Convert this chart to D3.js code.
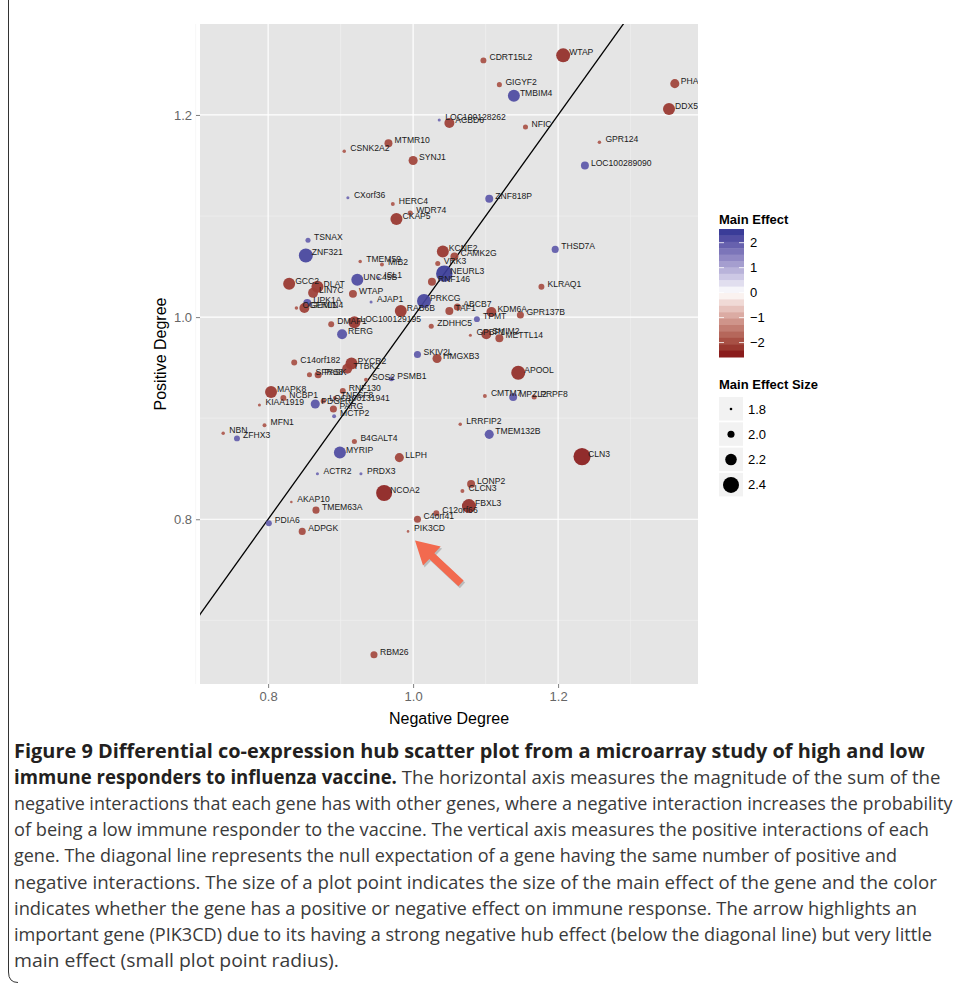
<!DOCTYPE html>
<html>
<head>
<meta charset="utf-8">
<script src="https://cdnjs.cloudflare.com/ajax/libs/d3/7.8.5/d3.min.js"></script>
<style>
  body { margin: 0; background: #fff; }
  svg { display: block; }
</style>
</head>
<body>
<svg id="chart" width="957" height="983"></svg>
<script>
// gene labels, negative degree (x), positive degree (y), main effect (colour; |value| = size)
var genes = ["WTAP","CDRT15L2","GIGYF2","TMBIM4","PHA","DDX5","LOC100128262","ACBD6","NFIC","GPR124",
  "MTMR10","CSNK2A2","SYNJ1","LOC100289090","CXorf36","ZNF818P","HERC4","WDR74","CKAP5","TSNAX",
  "THSD7A","KCNE2","ZNF321","CAMK2G","TMEM59","VRK3","MIB2","NEURL3","ISL1","UNC45B",
  "RNF146","GCC2","KLRAQ1","DLAT","LIN7C","WTAP","PRKCG","AJAP1","UPK1A","ABCB7",
  "OGFRL1","GEMIN4","TAF1","RAB6B","KDM6A","GPR137B","TPMT","LOC100129195","DMAP1","ZDHHC5",
  "RERG","GPBP1","SMIM2","METTL14","SKIV2L","HMGXB3","C14orf182","PYCR2","TTBK2","APOOL",
  "SFRS8","PASK","SOS2","PSMB1","RNF130","MAPK8","CMTM7","MPZL2","PRPF8","NCBP1",
  "KIAA1919","PDGFRL","LOC100131941","TNFSF8","PARG","MCTP2","LRRFIP2","MFN1","NBN","TMEM132B",
  "ZFHX3","B4GALT4","MYRIP","CLN3","LLPH","ACTR2","PRDX3","LONP2","CLCN3","NCOA2",
  "AKAP10","FBXL3","TMEM63A","C12orf66","C4orf41","PDIA6","PIK3CD","ADPGK","RBM26"];
var negDegree = [1.207,1.097,1.119,1.139,1.361,1.353,1.036,1.050,1.155,1.257,
  0.966,0.905,1.000,1.237,0.910,1.105,0.972,0.996,0.977,0.855,
  1.196,1.041,0.852,1.057,0.927,1.034,0.957,1.043,0.952,0.923,
  1.026,0.829,1.177,0.868,0.862,0.917,1.015,0.942,0.854,1.061,
  0.839,0.850,1.050,0.983,1.108,1.148,1.088,0.919,0.887,1.025,
  0.902,1.079,1.101,1.119,1.006,1.033,0.836,0.915,0.909,1.145,
  0.857,0.869,0.935,0.970,0.903,0.804,1.099,1.138,1.167,0.821,
  0.788,0.865,0.876,0.892,0.890,0.891,1.065,0.795,0.738,1.105,
  0.757,0.919,0.899,1.233,0.981,0.868,0.928,1.080,1.068,0.960,
  0.832,1.077,0.866,1.032,1.006,0.801,0.993,0.847,0.946];
var posDegree = [1.259,1.254,1.230,1.219,1.231,1.206,1.195,1.192,1.188,1.173,
  1.172,1.164,1.155,1.150,1.118,1.117,1.112,1.103,1.097,1.076,
  1.067,1.065,1.061,1.060,1.055,1.053,1.052,1.043,1.039,1.037,
  1.035,1.033,1.030,1.030,1.024,1.023,1.016,1.015,1.014,1.010,
  1.009,1.009,1.006,1.006,1.005,1.002,0.998,0.995,0.993,0.991,
  0.983,0.982,0.983,0.979,0.963,0.959,0.955,0.954,0.949,0.945,
  0.943,0.943,0.938,0.939,0.927,0.926,0.922,0.921,0.921,0.920,
  0.913,0.914,0.917,0.920,0.909,0.902,0.894,0.893,0.885,0.884,
  0.880,0.877,0.866,0.862,0.861,0.845,0.845,0.835,0.828,0.826,
  0.817,0.813,0.809,0.806,0.800,0.796,0.788,0.788,0.666];
var mainEffect = [-2.31,-1.95,-1.91,2.22,-2.09,-2.22,1.82,-2.13,-1.91,-1.84,
  -2.04,-1.84,-2.09,2.04,1.82,2.04,-1.86,-1.91,-2.22,1.91,
  2.00,-2.22,2.31,-2.04,-1.84,-1.91,-1.86,2.42,1.82,2.22,
  -2.04,-2.22,-1.95,-2.22,-2.13,-2.04,2.31,1.82,2.04,-2.00,
  -1.84,-2.13,-2.04,-2.22,-2.13,-2.00,1.95,-2.22,-1.95,-1.91,
  2.13,-1.82,-2.13,-2.04,2.00,-2.09,-1.95,-2.22,-2.13,-2.31,
  -1.91,-2.00,-1.86,1.91,-1.95,-2.22,-1.86,2.04,-1.91,-1.95,
  -1.82,2.09,-1.91,-1.86,-2.00,1.86,-1.84,-1.86,-1.84,2.09,
  1.95,-1.91,2.22,-2.45,-2.09,1.82,1.82,-2.04,-1.86,-2.40,
  -1.80,-2.31,-2.00,-1.95,-2.00,1.95,-1.80,-2.00,-2.00];

var xTicks = [0.8, 1.0, 1.2];
var yTicks = [0.8, 1.0, 1.2];
var xMinor = [0.7, 0.9, 1.1, 1.3];
var yMinor = [0.7, 0.9, 1.1];
var colourBreaks = [2, 1, 0, -1, -2];
var sizeBreaks = [1.8, 2.0, 2.2, 2.4];
var highlightGene = "PIK3CD";

var captionLines = [
  [["Figure 9 Differential co-expression hub scatter plot from a microarray study of high and low", true]],
  [["immune responders to influenza vaccine.", true], [" The horizontal axis measures the magnitude of the sum of the", false]],
  [["negative interactions that each gene has with other genes, where a negative interaction increases the probability", false]],
  [["of being a low immune responder to the vaccine. The vertical axis measures the positive interactions of each", false]],
  [["gene. The diagonal line represents the null expectation of a gene having the same number of positive and", false]],
  [["negative interactions. The size of a plot point indicates the size of the main effect of the gene and the color", false]],
  [["indicates whether the gene has a positive or negative effect on immune response. The arrow highlights an", false]],
  [["important gene (PIK3CD) due to its having a strong negative hub effect (below the diagonal line) but very little", false]],
  [["main effect (small plot point radius).", false]]
];
var captionWidths = [911, 927, 939, 916, 883, 923, 904, 919, 325];

var points = genes.map(function (g, i) {
  return { gene: g, x: negDegree[i], y: posDegree[i], effect: mainEffect[i] };
});

var svg = d3.select("#chart");
var panel = { left: 200, right: 698, top: 24, bottom: 684 };

var x = d3.scaleLinear().domain([0.706, 1.393]).range([panel.left, panel.right]);
var y = d3.scaleLinear().domain([0.637, 1.290]).range([panel.bottom, panel.top]);
var r = d3.scaleLinear().domain([1.8, 2.4]).range([1.3, 8]);
var effectExtent = d3.extent(mainEffect);
var lim = d3.max(effectExtent, Math.abs);
var colour = d3.scaleLinear()
  .domain([-lim, 0, lim])
  .range(["#8a1c1c", "#ffffff", "#373a97"])
  .interpolate(d3.interpolateLab);

// figure frame on the left
svg.append("path")
  .attr("d", "M8.5,0V972Q8.5,982.5,18,982.5")
  .attr("fill", "none")
  .attr("stroke", "#333")
  .attr("stroke-width", 1);

// panel
svg.append("rect")
  .attr("x", panel.left).attr("y", panel.top)
  .attr("width", panel.right - panel.left).attr("height", panel.bottom - panel.top)
  .attr("fill", "#e5e5e5");

var grid = svg.append("g");
grid.selectAll("line.xminor").data(xMinor).enter().append("line")
  .attr("x1", function (d) { return x(d); }).attr("x2", function (d) { return x(d); })
  .attr("y1", panel.top).attr("y2", panel.bottom)
  .attr("stroke", "#f2f2f2").attr("stroke-width", 0.6);
grid.selectAll("line.yminor").data(yMinor).enter().append("line")
  .attr("y1", function (d) { return y(d); }).attr("y2", function (d) { return y(d); })
  .attr("x1", panel.left).attr("x2", panel.right)
  .attr("stroke", "#f2f2f2").attr("stroke-width", 0.6);
grid.selectAll("line.xmajor").data(xTicks).enter().append("line")
  .attr("x1", function (d) { return x(d); }).attr("x2", function (d) { return x(d); })
  .attr("y1", panel.top).attr("y2", panel.bottom)
  .attr("stroke", "#fff").attr("stroke-width", 1.2);
grid.selectAll("line.ymajor").data(yTicks).enter().append("line")
  .attr("y1", function (d) { return y(d); }).attr("y2", function (d) { return y(d); })
  .attr("x1", panel.left).attr("x2", panel.right)
  .attr("stroke", "#fff").attr("stroke-width", 1.2);

svg.append("clipPath").attr("id", "clip").append("rect")
  .attr("x", panel.left).attr("y", panel.top)
  .attr("width", panel.right - panel.left).attr("height", panel.bottom - panel.top);

var plot = svg.append("g").attr("clip-path", "url(#clip)");

// null expectation line y = x
plot.append("line")
  .attr("x1", x(0.6)).attr("y1", y(0.6))
  .attr("x2", x(1.4)).attr("y2", y(1.4))
  .attr("stroke", "#000").attr("stroke-width", 1.3);

plot.append("g").selectAll("circle")
  .data(points).enter().append("circle")
  .attr("cx", function (d) { return x(d.x); })
  .attr("cy", function (d) { return y(d.y); })
  .attr("r", function (d) { return r(Math.abs(d.effect)); })
  .attr("fill", function (d) { return colour(d.effect); })
  .attr("fill-opacity", 0.92);

plot.append("g").selectAll("text")
  .data(points).enter().append("text")
  .attr("x", function (d) { return x(d.x) + 6; })
  .attr("y", function (d) { return y(d.y) - 3; })
  .attr("dominant-baseline", "central")
  .attr("font-family", "Liberation Sans, Arial, sans-serif")
  .attr("font-size", 8.6)
  .attr("fill", "#1a1a1a")
  .text(function (d) { return d.gene; });

// axes
var xAxis = svg.append("g").attr("transform", "translate(0," + panel.bottom + ")")
  .call(d3.axisBottom(x).tickValues(xTicks).tickFormat(d3.format(".1f")).tickSize(4).tickPadding(4));
var yAxis = svg.append("g").attr("transform", "translate(" + panel.left + ",0)")
  .call(d3.axisLeft(y).tickValues(yTicks).tickFormat(d3.format(".1f")).tickSize(4).tickPadding(4));
[xAxis, yAxis].forEach(function (a) {
  a.select(".domain").remove();
  a.selectAll(".tick line").attr("stroke", "#7f7f7f");
  a.selectAll(".tick text").attr("fill", "#666")
    .attr("font-family", "Liberation Sans, Arial, sans-serif").attr("font-size", 13);
});

svg.append("text")
  .attr("x", (panel.left + panel.right) / 2).attr("y", 724)
  .attr("text-anchor", "middle")
  .attr("font-family", "Liberation Sans, Arial, sans-serif").attr("font-size", 16)
  .text("Negative Degree");
svg.append("text")
  .attr("transform", "translate(166," + ((panel.top + panel.bottom) / 2) + ") rotate(-90)")
  .attr("text-anchor", "middle")
  .attr("font-family", "Liberation Sans, Arial, sans-serif").attr("font-size", 16)
  .text("Positive Degree");

// arrow pointing at the highlighted gene
var hp = points.filter(function (d) { return d.gene === highlightGene; })[0];
var tipX = x(hp.x) + 7, tipY = y(hp.y) + 9;
var tailX = tipX + 46, tailY = tipY + 43;
var ang = Math.atan2(tailY - tipY, tailX - tipX);
var arrow = svg.append("g");
function arrowPath(dx, dy) {
  var ca = Math.cos(ang), sa = Math.sin(ang);
  var headLen = 23, headW = 13, shaftW = 3.8;
  var len = Math.hypot(tailX - tipX, tailY - tipY);
  function p(a, b) { return [tipX + dx + a * ca - b * sa, tipY + dy + a * sa + b * ca]; }
  var pts = [p(0, 0), p(headLen, headW), p(headLen, shaftW), p(len, shaftW), p(len, -shaftW), p(headLen, -shaftW), p(headLen, -headW)];
  return "M" + pts.map(function (q) { return q[0].toFixed(1) + "," + q[1].toFixed(1); }).join("L") + "Z";
}
arrow.append("path").attr("d", arrowPath(1.5, 2)).attr("fill", "#000").attr("fill-opacity", 0.18);
arrow.append("path").attr("d", arrowPath(0, 0)).attr("fill", "#f26a4f");

// colour legend
var lg = svg.append("g").attr("font-family", "Liberation Sans, Arial, sans-serif");
lg.append("text").attr("x", 719).attr("y", 224).attr("font-size", 13).attr("font-weight", "bold").text("Main Effect");
var bar = { x: 719, top: 229, w: 25, h: 128, nbin: 20 };
var binH = bar.h / bar.nbin;
var binVals = d3.range(bar.nbin).map(function (i) {
  return effectExtent[1] - i * (effectExtent[1] - effectExtent[0]) / (bar.nbin - 1);
});
lg.selectAll("rect.bin").data(binVals).enter().append("rect")
  .attr("x", bar.x).attr("y", function (d, i) { return bar.top + i * binH; })
  .attr("width", bar.w).attr("height", binH + 0.5)
  .attr("fill", function (d) { return colour(d); });
var barY = d3.scaleLinear().domain([effectExtent[1], effectExtent[0]]).range([bar.top + binH / 2, bar.top + bar.h - binH / 2]);
colourBreaks.forEach(function (b) {
  var yy = barY(b);
  lg.append("line").attr("x1", bar.x).attr("x2", bar.x + 5).attr("y1", yy).attr("y2", yy).attr("stroke", "#fff").attr("stroke-opacity", 0.8);
  lg.append("line").attr("x1", bar.x + bar.w - 5).attr("x2", bar.x + bar.w).attr("y1", yy).attr("y2", yy).attr("stroke", "#fff").attr("stroke-opacity", 0.8);
  lg.append("text").attr("x", 750).attr("y", yy).attr("dominant-baseline", "central")
    .attr("font-size", 13).text(b < 0 ? "\u2212" + Math.abs(b) : String(b));
});

// size legend
lg.append("text").attr("x", 719).attr("y", 389).attr("font-size", 13).attr("font-weight", "bold").text("Main Effect Size");
sizeBreaks.forEach(function (b, i) {
  var top = 397 + i * 25.3;
  lg.append("rect").attr("x", 719).attr("y", top).attr("width", 24).attr("height", 23.5).attr("fill", "#f2f2f2");
  lg.append("circle").attr("cx", 731).attr("cy", top + 12).attr("r", r(b)).attr("fill", "#000");
  lg.append("text").attr("x", 748).attr("y", top + 12).attr("dominant-baseline", "central")
    .attr("font-size", 13).text(d3.format(".1f")(b));
});

// caption
var cap = svg.append("g").attr("font-family", "Open Sans, Noto Sans, sans-serif").attr("font-size", 19);
captionLines.forEach(function (line, i) {
  var t = cap.append("text").attr("x", 0).attr("y", 0).attr("fill", "#231f20");
  line.forEach(function (seg) {
    t.append("tspan").attr("font-weight", seg[1] ? "bold" : "normal")
      .attr("fill", seg[1] ? "#231f20" : "#3a3a3a")
      .text(seg[0]);
  });
  var w = t.node().getComputedTextLength();
  t.attr("transform", "translate(14," + (758 + i * 26.1) + ") scale(" + (captionWidths[i] / w) + ",1)");
});
</script>
</body>
</html>
